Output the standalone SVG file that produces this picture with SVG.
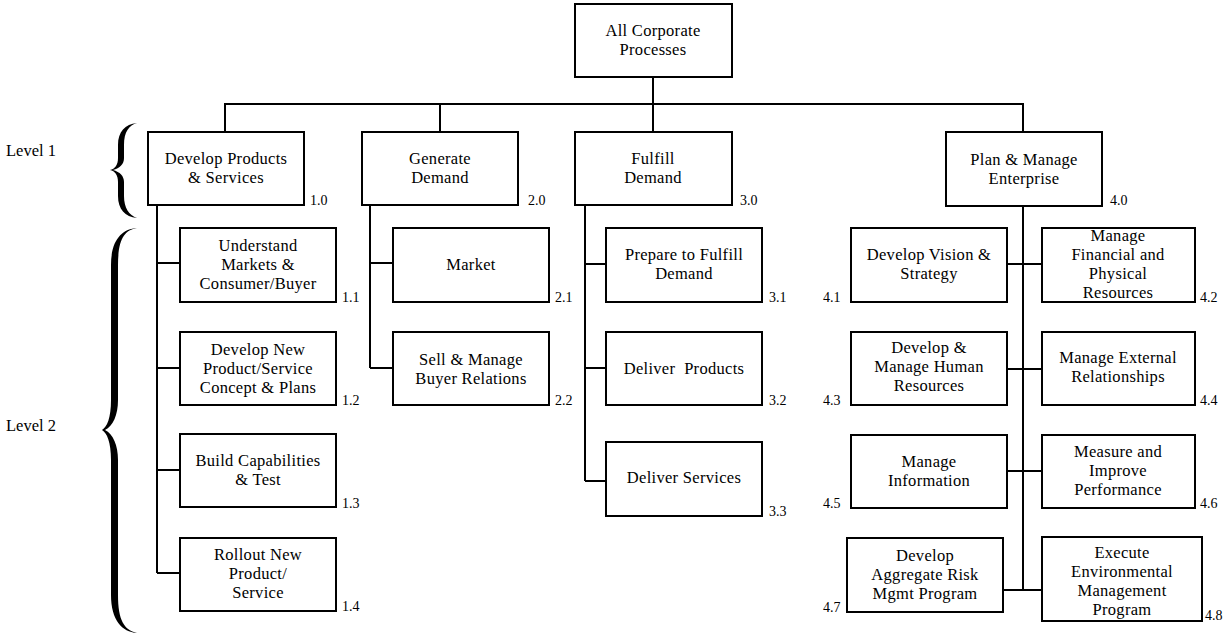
<svg xmlns="http://www.w3.org/2000/svg" width="1225" height="635" viewBox="0 0 1225 635">
<style>
.box{fill:#fff;stroke:#000;stroke-width:2}
.t{font-size:16.5px;fill:#000;text-anchor:middle;letter-spacing:0.3px}
.n{font-size:14px;fill:#000}
.lv{font-size:16.5px;fill:#000}
.c{fill:none;stroke:#000;stroke-width:2}
text{font-family:'Liberation Serif','Times New Roman',serif}
</style>
<rect width="1225" height="635" fill="#fff"/>
<g id="connectors">
<path class="c" d="M225,132V104H1023V132M440,104V132M653,77V132"/>
<path class="c" d="M157,205V573M157,263H180M157,368H180M157,470H180M157,573H180"/>
<path class="c" d="M370,205V368M370,263H393M370,368H393"/>
<path class="c" d="M585,205V481M585,264H606M585,368H606M585,481H606"/>
<path class="c" d="M1023,206V590M1007,264H1042M1007,369H1042M1007,471H1042M1003,590H1042"/>
</g>
<g id="braces">
<path d="M137,123 C125,124 118,132 118,145 L118,158 C118,165 115,169 110,170 C115,171 118,175 118,182 L118,196 C118,209 125,217 137,218 C129,215 124,208 124,196 L124,182 C124,176 120,172 113,170 C120,168 124,164 124,158 L124,145 C124,132 129,125 137,123 Z"/>
<path d="M137,228 C122,229 111,240 111,265 L111,400 C111,418 107,427 102,430 C107,433 111,442 111,460 L111,595 C111,620 122,632 137,633 C124,630 118,620 118,595 L118,460 C118,445 113,434 105,430 C113,426 118,415 118,400 L118,265 C118,240 124,230 137,228 Z"/>
<text class="lv" x="6" y="156">Level 1</text>
<text class="lv" x="6" y="431">Level 2</text>
</g>
<g id="n0"><rect class="box" x="575" y="4" width="157" height="73"/><text class="t" x="653" y="36">All Corporate</text><text class="t" x="653" y="55">Processes</text></g>
<g id="n1"><rect class="box" x="148" y="132" width="156" height="73"/><text class="t" x="226" y="164">Develop Products</text><text class="t" x="226" y="183">&amp; Services</text><text class="n" x="310" y="205">1.0</text></g>
<g id="n2"><rect class="box" x="362" y="132" width="156" height="73"/><text class="t" x="440" y="164">Generate</text><text class="t" x="440" y="183">Demand</text><text class="n" x="528" y="205">2.0</text></g>
<g id="n3"><rect class="box" x="575" y="132" width="157" height="73"/><text class="t" x="653" y="164">Fulfill</text><text class="t" x="653" y="183">Demand</text><text class="n" x="740" y="205">3.0</text></g>
<g id="n4"><rect class="box" x="946" y="132" width="156" height="74"/><text class="t" x="1024" y="165">Plan &amp; Manage</text><text class="t" x="1024" y="184">Enterprise</text><text class="n" x="1110" y="205">4.0</text></g>
<g id="n11"><rect class="box" x="180" y="228" width="156" height="74"/><text class="t" x="258" y="251">Understand</text><text class="t" x="258" y="270">Markets &amp;</text><text class="t" x="258" y="289">Consumer/Buyer</text><text class="n" x="342" y="302">1.1</text></g>
<g id="n12"><rect class="box" x="180" y="332" width="156" height="73"/><text class="t" x="258" y="355">Develop New</text><text class="t" x="258" y="374">Product/Service</text><text class="t" x="258" y="393">Concept &amp; Plans</text><text class="n" x="342" y="405">1.2</text></g>
<g id="n13"><rect class="box" x="180" y="434" width="156" height="73"/><text class="t" x="258" y="466">Build Capabilities</text><text class="t" x="258" y="485">&amp; Test</text><text class="n" x="342" y="508">1.3</text></g>
<g id="n14"><rect class="box" x="180" y="538" width="156" height="73"/><text class="t" x="258" y="560">Rollout New</text><text class="t" x="258" y="579">Product/</text><text class="t" x="258" y="598">Service</text><text class="n" x="342" y="611">1.4</text></g>
<g id="n21"><rect class="box" x="393" y="228" width="156" height="74"/><text class="t" x="471" y="270">Market</text><text class="n" x="555" y="302">2.1</text></g>
<g id="n22"><rect class="box" x="393" y="332" width="156" height="73"/><text class="t" x="471" y="365">Sell &amp; Manage</text><text class="t" x="471" y="384">Buyer Relations</text><text class="n" x="555" y="405">2.2</text></g>
<g id="n31"><rect class="box" x="606" y="228" width="156" height="74"/><text class="t" x="684" y="260">Prepare to Fulfill</text><text class="t" x="684" y="279">Demand</text><text class="n" x="769" y="302">3.1</text></g>
<g id="n32"><rect class="box" x="606" y="332" width="156" height="73"/><text class="t" x="684" y="374" style="white-space:pre">Deliver  Products</text><text class="n" x="769" y="405">3.2</text></g>
<g id="n33"><rect class="box" x="606" y="442" width="156" height="74"/><text class="t" x="684" y="483">Deliver Services</text><text class="n" x="769" y="516">3.3</text></g>
<g id="n41"><rect class="box" x="851" y="228" width="156" height="74"/><text class="t" x="929" y="260">Develop Vision &amp;</text><text class="t" x="929" y="279">Strategy</text><text class="n" x="823" y="302">4.1</text></g>
<g id="n42"><rect class="box" x="1042" y="228" width="153" height="74"/><text class="t" x="1118" y="241">Manage</text><text class="t" x="1118" y="260">Financial and</text><text class="t" x="1118" y="279">Physical</text><text class="t" x="1118" y="298">Resources</text><text class="n" x="1200" y="302">4.2</text></g>
<g id="n43"><rect class="box" x="851" y="332" width="156" height="73"/><text class="t" x="929" y="353">Develop &amp;</text><text class="t" x="929" y="372">Manage Human</text><text class="t" x="929" y="391">Resources</text><text class="n" x="823" y="405">4.3</text></g>
<g id="n44"><rect class="box" x="1042" y="332" width="153" height="73"/><text class="t" x="1118" y="363">Manage External</text><text class="t" x="1118" y="382">Relationships</text><text class="n" x="1200" y="405">4.4</text></g>
<g id="n45"><rect class="box" x="851" y="435" width="156" height="73"/><text class="t" x="929" y="467">Manage</text><text class="t" x="929" y="486">Information</text><text class="n" x="823" y="508">4.5</text></g>
<g id="n46"><rect class="box" x="1042" y="435" width="153" height="73"/><text class="t" x="1118" y="457">Measure and</text><text class="t" x="1118" y="476">Improve</text><text class="t" x="1118" y="495">Performance</text><text class="n" x="1200" y="508">4.6</text></g>
<g id="n47"><rect class="box" x="847" y="538" width="156" height="74"/><text class="t" x="925" y="561">Develop</text><text class="t" x="925" y="580">Aggregate Risk</text><text class="t" x="925" y="599">Mgmt Program</text><text class="n" x="823" y="612">4.7</text></g>
<g id="n48"><rect class="box" x="1042" y="537" width="160" height="84"/><text class="t" x="1122" y="558">Execute</text><text class="t" x="1122" y="577">Environmental</text><text class="t" x="1122" y="596">Management</text><text class="t" x="1122" y="615">Program</text><text class="n" x="1205" y="620">4.8</text></g>
</svg>
